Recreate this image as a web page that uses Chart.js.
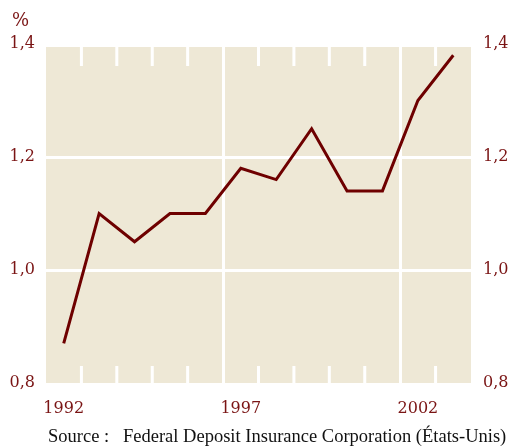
<!DOCTYPE html>
<html>
<head>
<meta charset="utf-8">
<script src="https://cdn.jsdelivr.net/npm/chart.js@4"></script>
<style>
  html, body { margin: 0; padding: 0; background: #fff; }
  #wrap { width: 510px; height: 446px; position: relative; }
</style>
</head>
<body>
<div id="wrap"><canvas id="chart" width="510" height="446"></canvas></div>
<script>
const years = ['1992','1993','1994','1995','1996','1997','1998','1999','2000','2001','2002','2003'];
const ratio = [0.87, 1.10, 1.05, 1.10, 1.10, 1.18, 1.16, 1.25, 1.14, 1.14, 1.30, 1.38];
const shownYears = ['1992', '1997', '2002'];
const yTicks = [0.8, 1.0, 1.2, 1.4];

const RED = '#7a1414';
const LINE = '#6e0000';
const BEIGE = '#eee8d6';
const FONT = "'DejaVu Serif', serif";

// beige plot area, short year ticks, "%" and source note
const decor = {
  id: 'decor',
  beforeDraw(chart) {
    const { ctx, chartArea: a } = chart;
    ctx.save();
    ctx.fillStyle = BEIGE;
    ctx.fillRect(a.left, a.top + 3, a.right - a.left, a.bottom - a.top - 3);
    ctx.restore();
  },
  beforeDatasetsDraw(chart) {
    const { ctx, chartArea: a, scales } = chart;
    const x = scales.x;
    const half = (x.getPixelForValue(1) - x.getPixelForValue(0)) / 2;
    ctx.save();
    ctx.strokeStyle = '#ffffff';
    ctx.lineWidth = 3;
    years.forEach((y, i) => {
      if (i === 0 || shownYears.includes(y)) return;
      const px = x.getPixelForValue(i) - half;
      ctx.beginPath();
      ctx.moveTo(px, a.top + 3); ctx.lineTo(px, a.top + 22);
      ctx.moveTo(px, a.bottom - 17); ctx.lineTo(px, a.bottom);
      ctx.stroke();
    });
    ctx.restore();
  },
  afterDraw(chart) {
    const { ctx } = chart;
    ctx.save();
    ctx.fillStyle = RED;
    ctx.font = "18px " + FONT;
    ctx.textBaseline = 'alphabetic';
    ctx.fillText('%', 12, 26);
    ctx.fillStyle = '#111';
    ctx.font = "18.5px 'Liberation Serif', serif";
    ctx.fillText('Source :', 48, 442);
    ctx.fillText('Federal Deposit Insurance Corporation (États-Unis)', 123, 442);
    ctx.restore();
  }
};

const yCommon = {
  min: 0.8,
  max: 1.4,
  afterBuildTicks: s => { s.ticks = yTicks.map(v => ({ value: v })); },
  border: { display: false },
  grid: {
    drawTicks: false,
    lineWidth: 3,
    color: c => (c.tick && (c.tick.value === 1.0 || Math.abs(c.tick.value - 1.2) < 1e-6)) ? '#ffffff' : 'rgba(0,0,0,0)'
  },
  ticks: {
    color: RED,
    font: { family: FONT, size: 16 },
    padding: 11,
    callback: v => v.toFixed(1).replace('.', ',')
  }
};

new Chart(document.getElementById('chart'), {
  type: 'line',
  data: {
    labels: years,
    datasets: [{
      data: ratio,
      borderColor: LINE,
      borderWidth: 3,
      pointRadius: 0,
      tension: 0,
      fill: false
    }]
  },
  plugins: [decor],
  options: {
    responsive: false,
    animation: false,
    layout: { padding: { top: 44, left: 0, right: 0, bottom: 0 } },
    plugins: { legend: { display: false }, tooltip: { enabled: false } },
    scales: {
      x: {
        offset: true,
        border: { display: false },
        grid: {
          offset: true,
          drawTicks: false,
          lineWidth: 3,
          color: c => (c.index === 5 || c.index === 10) ? '#ffffff' : 'rgba(0,0,0,0)'
        },
        ticks: {
          autoSkip: false,
          maxRotation: 0,
          color: RED,
          font: { family: FONT, size: 16 },
          padding: 16,
          callback: (v, i) => shownYears.includes(years[i]) ? years[i] : ''
        },
        afterFit: s => { s.height = 63; }
      },
      y: Object.assign({}, yCommon, {
        position: 'left',
        afterFit: s => { s.width = 46; }
      }),
      y2: Object.assign({}, yCommon, {
        position: 'right',
        grid: { display: false, drawTicks: false },
        ticks: Object.assign({}, yCommon.ticks, { padding: 12 }),
        afterFit: s => { s.width = 39; }
      })
    }
  }
});
</script>
</body>
</html>
